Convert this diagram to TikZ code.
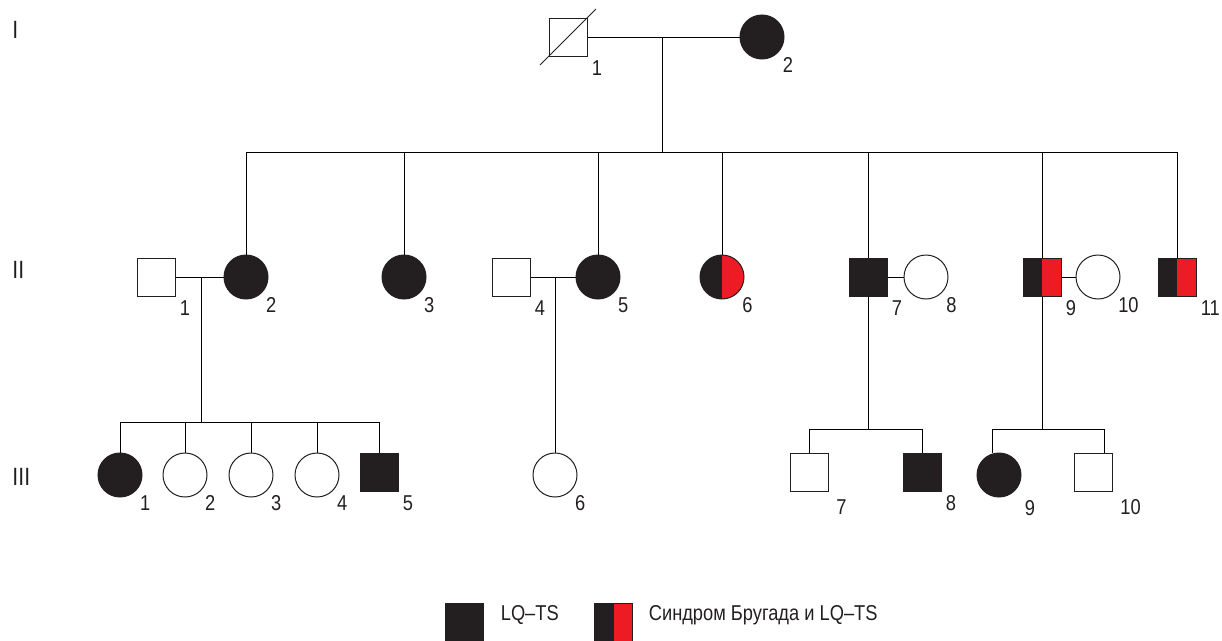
\documentclass[tikz,border=0pt]{standalone}
\usepackage{fontspec}
\setmainfont{Liberation Sans}[FakeStretch=0.85]
\usepackage{tikz}
\pgfdeclarelayer{bg}
\pgfsetlayers{bg,main}
\definecolor{ink}{HTML}{231F20}
\definecolor{lqred}{HTML}{ED1C24}
\tikzset{
  male/.style={draw=ink, rectangle, minimum size=38pt, inner sep=0pt},
  female/.style={draw=ink, circle, minimum size=44pt, inner sep=0pt},
  lq/.style={fill=ink},
  brugada/.style={path picture={
      \fill[ink] (path picture bounding box.north west) rectangle (path picture bounding box.south);
      \fill[lqred] (path picture bounding box.north) rectangle (path picture bounding box.south east);}},
  gen/.style={anchor=west, inner sep=0pt, font=\fontsize{25}{28}\selectfont},
  every label/.style={inner sep=1pt}
}

\begin{document}
\begin{tikzpicture}[x=1pt, y=-1pt, line width=1pt, draw=ink, text=ink,
    font=\fontsize{21.5}{24}\selectfont, label distance=4pt]
        \useasboundingbox (0,0) rectangle (1222,640);
        \node (g1) [gen] at (12,30) {I};
        \node (g2) [gen] at (12,270) {II};
        \node (g3) [gen] at (12,477) {III};
        \node (i1) [male, label=below right:1] at (568,37) {};
        \node (i2) [female, lq, label={[label distance=5pt]below right:2}] at (762,37) {};
        \node (ii1) [male, label=below right:1] at (156,277) {};
        \node (ii2) [female, lq, label=below right:2] at (246,277) {};
        \node (ii3) [female, lq, label=below right:3] at (404,277) {};
        \node (ii4) [male, label=below right:4] at (511,277) {};
        \node (ii5) [female, lq, label=below right:5] at (598,277) {};
        \node (ii6) [female, brugada, label=below right:6] at (722,277) {};
        \node (ii7) [male, lq, label=below right:7] at (868,277) {};
        \node (ii8) [female, label=below right:8] at (926,277) {};
        \node (ii9) [male, brugada, label=below right:9] at (1042,277) {};
        \node (ii10) [female, label=below right:10] at (1098,277) {};
        \node (ii11) [male, brugada, label=below right:11] at (1177,277) {};
        \node (iii1) [female, lq, label=below right:1] at (120,475) {};
        \node (iii2) [female, label=below right:2] at (185,475) {};
        \node (iii3) [female, label=below right:3] at (251,475) {};
        \node (iii4) [female, label=below right:4] at (317,475) {};
        \node (iii5) [male, lq, label=below right:5] at (379,472) {};
        \node (iii6) [female, label=below right:6] at (555,475) {};
        \node (iii7) [male, label={[label distance=9pt]below right:7}] at (809,472) {};
        \node (iii8) [male, lq, label=below right:8] at (922,472) {};
        \node (iii9) [female, lq, label={[label distance=12pt]below right:9}] at (999,475) {};
        \node (iii10) [male, label={[label distance=9pt]below right:10}] at (1093,472) {};
        \node (key1) [male, lq] at (464.5,622) {};
        \node (key1t) [anchor=west] at (497,615) {LQ–TS};
        \node (key2) [male, brugada] at (613.5,622) {};
        \node (key2t) [anchor=west] at (645,615) {Синдром Бругада и LQ–TS};
        \coordinate (m1) at (662,37);
        \coordinate (s1) at (662,152);
        \coordinate (m2) at (201,277);
        \coordinate (s2) at (201,422);
        \coordinate (m3) at (555,277);
        \coordinate (s3) at (868,429);
        \coordinate (s4) at (1042,429);
        \coordinate (d9) at (992,429);
        \coordinate (d10) at (1104,429);
        \draw[shorten >=-12pt, shorten <=-12pt] (i1.south west) -- (i1.north east);
        \begin{pgfonlayer}{bg}
                \draw (i1) edge (i2);
                \draw (m1) edge (s1);
                \draw (ii2 |- s1) edge (ii11 |- s1);
                \draw (ii2 |- s1) edge (ii2);
                \draw (ii3 |- s1) edge (ii3);
                \draw (ii5 |- s1) edge (ii5);
                \draw (ii6 |- s1) edge (ii6);
                \draw (ii7 |- s1) edge (ii7);
                \draw (ii9 |- s1) edge (ii9);
                \draw (ii11 |- s1) edge (ii11);
                \draw (ii1) edge (ii2);
                \draw (m2) edge (s2);
                \draw (iii1 |- s2) edge (iii5 |- s2);
                \draw (iii1 |- s2) edge (iii1);
                \draw (iii2 |- s2) edge (iii2);
                \draw (iii3 |- s2) edge (iii3);
                \draw (iii4 |- s2) edge (iii4);
                \draw (iii5 |- s2) edge (iii5);
                \draw (ii4) edge (ii5);
                \draw (m3) edge (iii6);
                \draw (ii7) edge (ii8);
                \draw (ii7) edge (s3);
                \draw (iii7 |- s3) edge (iii8 |- s3);
                \draw (iii7 |- s3) edge (iii7);
                \draw (iii8 |- s3) edge (iii8);
                \draw (ii9) edge (ii10);
                \draw (ii9) edge (s4);
                \draw (d9) edge (d10);
                \draw (d9) edge (d9 |- iii9.north);
                \draw (d10) edge (d10 |- iii10.north);
        \end{pgfonlayer}
\end{tikzpicture}
\end{document}
